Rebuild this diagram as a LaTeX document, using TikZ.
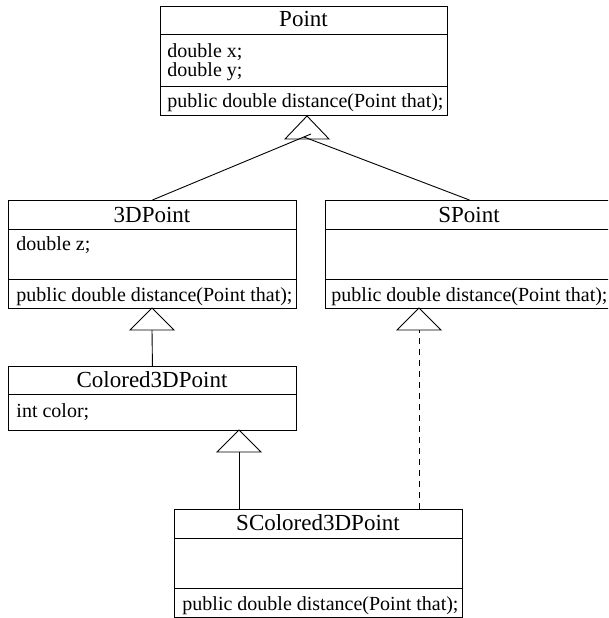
\documentclass[tikz,border=0pt]{standalone}
\usepackage{fontspec}
\setmainfont{Liberation Serif}
\begin{document}
\begin{tikzpicture}[x=1pt,y=-1pt, line width=0.9pt,
  umlbox/.style={draw, rectangle, inner sep=0pt, anchor=north west, minimum width=288pt},
  ttl/.style={anchor=base, inner sep=0pt, font=\fontsize{23}{27}\selectfont},
  txt/.style={anchor=base west, inner sep=0pt, font=\fontsize{20}{24}\selectfont},
  tri/.style={draw},
  dep/.style={dash pattern=on 6pt off 5pt}]
\clip (0,0) rectangle (608,618);

% boxes
\node[umlbox, minimum width=287pt, minimum height=109pt] (point) at (160,6) {};
\draw (160,34) -- (447,34);
\draw (160,86) -- (447,86);
\node[ttl] at (303.5,27) {Point};
\node[txt] at (167,57) {double x;};
\node[txt] at (167,76) {double y;};
\node[txt] at (167,107) {public double distance(Point that);};

\node[umlbox, minimum height=108pt] (tdp) at (8,200) {};
\draw (8,229) -- (296,229);
\draw (8,279) -- (296,279);
\node[ttl] at (152,222) {3DPoint};
\node[txt] at (16,250) {double z;};
\node[txt] at (16,301) {public double distance(Point that);};

\node[umlbox, minimum height=108pt] (sp) at (325,200) {};
\draw (325,229) -- (613,229);
\draw (325,279) -- (613,279);
\node[ttl] at (469,222) {SPoint};
\node[txt] at (331,301) {public double distance(Point that);};

\node[umlbox, minimum height=64pt] (ctdp) at (8,366) {};
\draw (8,394) -- (296,394);
\node[ttl] at (152,387) {Colored3DPoint};
\node[txt] at (16,417) {int color;};

\node[umlbox, minimum height=108pt] (sctdp) at (174,509) {};
\draw (174,538) -- (462,538);
\draw (174,588) -- (462,588);
\node[ttl] at (318,530) {SColored3DPoint};
\node[txt] at (182,610) {public double distance(Point that);};

% triangle base points
\coordinate (t1l) at (311,134);
\coordinate (t1r) at (304,137);
\coordinate (t2) at (152,330);
\coordinate (t3) at (239,452);
\coordinate (t4) at (419,330);

% triangles
\draw[tri] (307,116) -- (329,139) -- (285,139) -- cycle;
\draw[tri] (t2) ++(0,-22) -- ++(22,22) -- ++(-44,0) -- cycle;
\draw[tri] (t3) ++(0,-22) -- ++(22,22) -- ++(-44,0) -- cycle;
\draw[tri] (t4) ++(0,-22) -- ++(22,22) -- ++(-44,0) -- cycle;

% connectors
\draw (tdp.north) -- (t1l);
\draw (sp.north) -- (t1r);
\draw (ctdp.north) -- (t2);
\draw (t3 |- sctdp.north) -- (t3);
\draw[dep] (t4 |- sctdp.north) -- (t4);
\end{tikzpicture}
\end{document}
